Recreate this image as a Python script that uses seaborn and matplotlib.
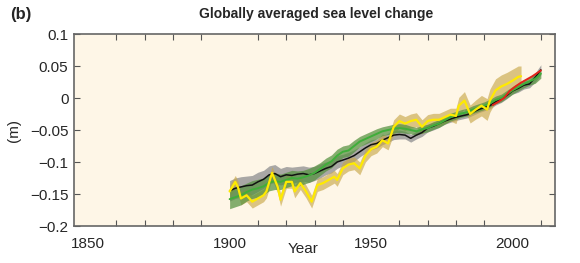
import matplotlib
matplotlib.use("Agg")
import matplotlib.pyplot as plt
import seaborn as sns

# ---------------------------------------------------------------------------
# DATA (metres)
# ---------------------------------------------------------------------------
YEARS_2 = list(range(1900, 2011, 2))

BLACK = [-0.145, -0.141, -0.139, -0.137, -0.136, -0.131, -0.127, -0.120, -0.118, -0.123,
         -0.120, -0.121, -0.119, -0.118, -0.120, -0.118, -0.114, -0.110, -0.107, -0.100,
         -0.097, -0.094, -0.090, -0.084, -0.078, -0.073, -0.071, -0.066, -0.062, -0.058,
         -0.057, -0.058, -0.063, -0.058, -0.054, -0.047, -0.044, -0.040, -0.036, -0.033,
         -0.030, -0.028, -0.026, -0.022, -0.018, -0.015, -0.012, -0.006, -0.002, 0.004,
         0.011, 0.015, 0.020, 0.022, 0.032, 0.044]
BLACK_ERR = [0.016, 0.016, 0.016, 0.015, 0.015, 0.015, 0.014, 0.014, 0.014, 0.013,
             0.013, 0.013, 0.012, 0.012, 0.012, 0.011, 0.011, 0.010, 0.010, 0.010,
             0.009, 0.009, 0.009, 0.008, 0.008, 0.008, 0.007, 0.007, 0.007, 0.007,
             0.007, 0.006, 0.006, 0.006, 0.006, 0.006, 0.006, 0.006, 0.005, 0.005,
             0.005, 0.005, 0.005, 0.005, 0.005, 0.005, 0.005, 0.005, 0.005, 0.005,
             0.005, 0.006, 0.006, 0.006, 0.007, 0.008]

GREEN = [-0.158, -0.155, -0.152, -0.147, -0.143, -0.141, -0.138, -0.132, -0.130, -0.131,
         -0.128, -0.125, -0.126, -0.124, -0.121, -0.117, -0.111, -0.104, -0.099, -0.090,
         -0.084, -0.082, -0.075, -0.068, -0.064, -0.060, -0.056, -0.052, -0.050, -0.048,
         -0.047, -0.048, -0.050, -0.052, -0.049, -0.047, -0.043, -0.040, -0.035, -0.030,
         -0.027, -0.024, -0.022, -0.018, -0.015, -0.012, -0.008, -0.003, 0.000, 0.006,
         0.012, 0.017, 0.022, 0.026, 0.030, 0.038]
GREEN_ERR = [0.015, 0.015, 0.015, 0.014, 0.014, 0.014, 0.013, 0.013, 0.013, 0.012,
             0.012, 0.012, 0.012, 0.011, 0.011, 0.011, 0.010, 0.010, 0.010, 0.010,
             0.009, 0.009, 0.009, 0.008, 0.008, 0.008, 0.008, 0.007, 0.007, 0.007,
             0.007, 0.007, 0.006, 0.006, 0.006, 0.006, 0.006, 0.006, 0.006, 0.006,
             0.006, 0.006, 0.006, 0.006, 0.006, 0.006, 0.006, 0.006, 0.006, 0.006,
             0.006, 0.006, 0.006, 0.006, 0.007, 0.007]

YELLOW_YEARS = [1900, 1902, 1903, 1904, 1906, 1908, 1910, 1912, 1913, 1915, 1917, 1918,
                1920, 1922, 1923, 1925, 1927, 1929, 1931, 1933, 1935, 1937, 1938, 1940,
                1942, 1944, 1946, 1948, 1950, 1952, 1954, 1956, 1958, 1960, 1962, 1964,
                1966, 1968, 1970, 1972, 1974, 1976, 1978, 1980, 1981, 1983, 1985, 1987,
                1989, 1991, 1992, 1994, 1996, 1998, 2000, 2002, 2003]
YELLOW = [-0.146, -0.131, -0.140, -0.157, -0.152, -0.162, -0.157, -0.152, -0.146, -0.117,
          -0.139, -0.159, -0.131, -0.131, -0.146, -0.133, -0.146, -0.162, -0.136, -0.133,
          -0.128, -0.123, -0.128, -0.110, -0.104, -0.102, -0.110, -0.090, -0.080, -0.076,
          -0.066, -0.071, -0.045, -0.036, -0.040, -0.036, -0.034, -0.045, -0.036, -0.034,
          -0.034, -0.030, -0.026, -0.028, -0.012, -0.004, -0.025, -0.018, -0.012, -0.018,
          -0.004, 0.012, 0.018, 0.022, 0.027, 0.033, 0.034]
YELLOW_ERR = [0.010, 0.010, 0.010, 0.010, 0.010, 0.010, 0.010, 0.010, 0.010, 0.010,
              0.010, 0.010, 0.010, 0.010, 0.010, 0.010, 0.010, 0.010, 0.010, 0.010,
              0.010, 0.010, 0.010, 0.010, 0.010, 0.010, 0.010, 0.010, 0.010, 0.010,
              0.010, 0.010, 0.011, 0.011, 0.011, 0.011, 0.011, 0.011, 0.010, 0.010,
              0.010, 0.010, 0.010, 0.012, 0.013, 0.014, 0.014, 0.015, 0.016, 0.017,
              0.018, 0.018, 0.018, 0.018, 0.018, 0.017, 0.016]

RED_YEARS = [1993, 1995, 1997, 1999, 2001, 2003, 2005, 2007, 2009, 2010]
RED = [-0.011, -0.006, 0.000, 0.011, 0.018, 0.024, 0.029, 0.034, 0.040, 0.043]

Y_TICKS = [-0.2, -0.15, -0.1, -0.05, 0, 0.05, 0.1]
Y_LABELS = ["\u22120.2", "\u22120.15", "\u22120.1", "\u22120.05", "0", "0.05", "0.1"]
X_MAJOR = [1850, 1900, 1950, 2000]
X_MINOR = list(range(1850, 2011, 10))

# ---------------------------------------------------------------------------
# PLOT
# ---------------------------------------------------------------------------
sns.set_style("ticks")
plt.rcParams["font.family"] = ["Liberation Sans Narrow", "Liberation Sans", "DejaVu Sans"]

fig = plt.figure(figsize=(5.8, 2.63), dpi=100)
ax = fig.add_axes([74 / 580, 1 - 226 / 263, (555 - 74) / 580, (226 - 34) / 263])
ax.set_facecolor("#fef6e7")


def band(x, y, e, color, alpha):
    lo = [v - d for v, d in zip(y, e)]
    hi = [v + d for v, d in zip(y, e)]
    ax.fill_between(x, lo, hi, color=color, alpha=alpha, lw=0)


band(YEARS_2, BLACK, BLACK_ERR, "#9a9a9a", 0.85)
band(YELLOW_YEARS, YELLOW, YELLOW_ERR, "#c9a84a", 0.65)
band(YEARS_2, GREEN, GREEN_ERR, "#55913f", 0.72)

sns.lineplot(x=YEARS_2, y=BLACK, ax=ax, color="#111111", lw=1.1)
sns.lineplot(x=YEARS_2, y=GREEN, ax=ax, color="#3fae3a", lw=1.4)
sns.lineplot(x=YELLOW_YEARS, y=YELLOW, ax=ax, color="#ffea00", lw=1.6)
sns.lineplot(x=RED_YEARS, y=RED, ax=ax, color="#e2231a", lw=1.4)

ax.set_xlim(1845, 2015)
ax.set_ylim(-0.2, 0.1)
ax.set_xticks(X_MAJOR)
ax.set_xticklabels([str(v) for v in X_MAJOR])
ax.set_xticks(X_MINOR, minor=True)
ax.set_yticks(Y_TICKS)
ax.set_yticklabels(Y_LABELS)
ax.tick_params(which="both", direction="in", top=True, right=True,
               length=4, width=0.8, color="#555555", labelsize=11, pad=4)
ax.tick_params(axis="x", which="major", length=0, pad=8)
for s in ax.spines.values():
    s.set_color("#666666")
    s.set_linewidth(1.2)
ax.set_xlabel("")
ax.set_ylabel("")

fig.text(14 / 580, 1 - 130 / 263, "(m)", rotation=90, ha="center", va="center", fontsize=11)
fig.text(303 / 580, 1 - 249 / 263, "Year", ha="center", va="center", fontsize=11)
fig.text(316 / 580, 1 - 14 / 263, "Globally averaged sea level change",
         ha="center", va="center", fontsize=10, fontweight="bold")
fig.text(21 / 580, 1 - 14 / 263, "(b)", ha="center", va="center", fontsize=12, fontweight="bold")

fig.savefig("out.png", dpi=100, facecolor="white")
